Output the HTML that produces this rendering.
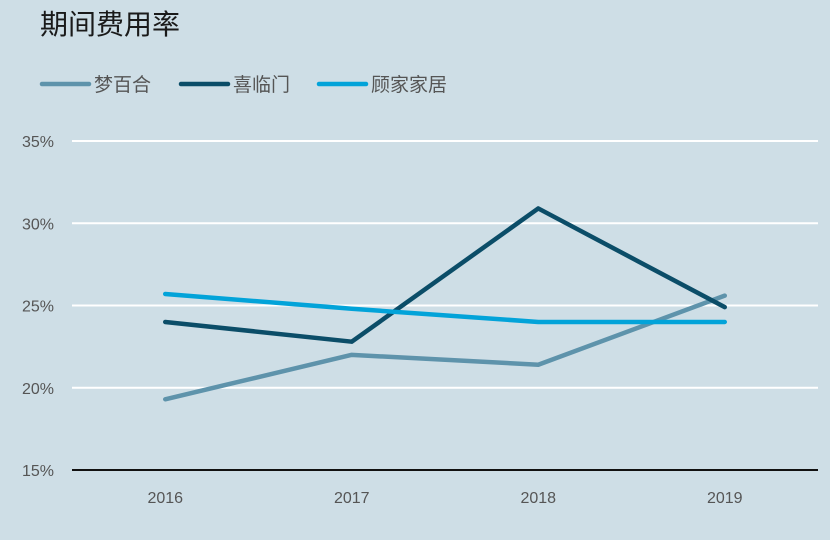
<!DOCTYPE html>
<html><head><meta charset="utf-8">
<style>
body{margin:0;background:#cedee6;}
svg{display:block;font-family:"Liberation Sans","Noto Sans CJK SC",sans-serif;}
</style></head>
<body>
<svg width="830" height="540" viewBox="0 0 830 540">
<rect x="0" y="0" width="830" height="540" fill="#cedee6"/>
<text x="40" y="34" font-size="28" fill="#1a1a1a">期间费用率</text>
<g id="legend"></g>
<g id="grid"></g>
<g id="yaxis"></g>
<g id="xaxis"></g>
<g id="series"></g>
</svg>
<script>
const categories = ["2016","2017","2018","2019"];
const seriesNames = ["梦百合","喜临门","顾家家居"];
const mengbaihe = [19.3, 22.0, 21.4, 25.6];
const xilinmen = [24.0, 22.8, 30.9, 24.9];
const gujia = [25.7, 24.8, 24.0, 24.0];
const yTicks = [15, 20, 25, 30, 35];
const yTickLabels = ["15%","20%","25%","30%","35%"];

const NS="http://www.w3.org/2000/svg";
const colors=["#5e93ab","#0b4d68","#02a3d9"];
const plotL=72, plotR=818, yMin=15, yMax=35, yBot=470, yTop=141;
const band=(plotR-plotL)/categories.length;
function xScale(i){return plotL+band*(i+0.5);}
function yScale(v){return yBot-(v-yMin)/(yMax-yMin)*(yBot-yTop);}
function mk(tag,attrs,parent){const e=document.createElementNS(NS,tag);for(const k in attrs)e.setAttribute(k,attrs[k]);parent.appendChild(e);return e;}

const grid=document.getElementById('grid'), yaxis=document.getElementById('yaxis'), xaxis=document.getElementById('xaxis');
yTicks.forEach((t,i)=>{
  const y=yScale(t);
  const l=mk('line',{x1:plotL,x2:plotR,y1:y,y2:y,stroke:i===0?"#111":"#fff","stroke-width":2},grid);
  
  
  const tx=mk('text',{x:54,y:y+6,"font-size":16,fill:"#555","text-anchor":"end"},yaxis);
  tx.textContent=yTickLabels[i];
  
  
});
categories.forEach((c,i)=>{
  const tx=mk('text',{x:xScale(i),y:503,"font-size":16,fill:"#555","text-anchor":"middle"},xaxis);
  tx.textContent=c;
  
  
});
const data=[mengbaihe,xilinmen,gujia];
const sg=document.getElementById('series');
data.forEach((arr,s)=>{
  const pts=arr.map((v,i)=>xScale(i)+","+yScale(v)).join(" ");
  const p=mk('polyline',{points:pts,fill:"none",stroke:colors[s],"stroke-width":4.5,"stroke-linejoin":"round","stroke-linecap":"round"},sg);
  
  
});
const lg=document.getElementById('legend');
const lx=[42,181,319];
seriesNames.forEach((n,s)=>{
  const g=mk('g',{},lg);
  
  
  mk('line',{x1:lx[s],x2:lx[s]+47,y1:84,y2:84,stroke:colors[s],"stroke-width":4.5,"stroke-linecap":"round"},g);
  const t=mk('text',{x:lx[s]+52,y:91,"font-size":19,fill:"#555"},g);
  t.textContent=n;
});
</script>
</body></html>
